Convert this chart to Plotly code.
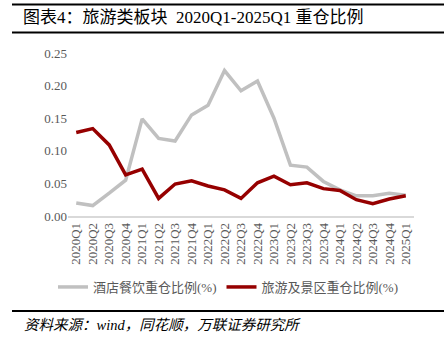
import plotly.graph_objects as go

quarters = ["2020Q1","2020Q2","2020Q3","2020Q4","2021Q1","2021Q2","2021Q3","2021Q4",
            "2022Q1","2022Q2","2022Q3","2022Q4","2023Q1","2023Q2","2023Q3","2023Q4",
            "2024Q1","2024Q2","2024Q3","2024Q4","2025Q1"]
hotel = [0.020,0.016,0.035,0.055,0.149,0.119,0.115,0.155,0.170,0.223,0.192,0.207,
         0.150,0.078,0.075,0.053,0.040,0.031,0.031,0.035,0.032]
travel = [0.128,0.134,0.109,0.063,0.072,0.027,0.049,0.054,0.046,0.040,0.027,0.051,
          0.061,0.048,0.051,0.042,0.039,0.025,0.019,0.026,0.031]
series_names = ["酒店餐饮重仓比例(%)", "旅游及景区重仓比例(%)"]
y_ticks = [0.00, 0.05, 0.10, 0.15, 0.20, 0.25]

FONT = "Liberation Serif, Noto Sans CJK SC, serif"
W, H = 444, 341
L, R, T, B = 68, 30, 53, 125
plot_h = H - T - B
plot_w = W - L - R

def px_y(py):
    return (H - B - py) / plot_h

def px_x(px):
    return (px - L) / plot_w

fig = go.Figure()
fig.add_trace(go.Scatter(x=quarters, y=hotel, mode="lines", name=series_names[0],
                         line=dict(color="#c0c0c0", width=3.5)))
fig.add_trace(go.Scatter(x=quarters, y=travel, mode="lines", name=series_names[1],
                         line=dict(color="#960000", width=3.5)))

fig.update_layout(
    width=W, height=H,
    margin=dict(l=L, r=R, t=T, b=B, autoexpand=False),
    paper_bgcolor="white", plot_bgcolor="white",
    font=dict(family=FONT, color="#595959", size=12),
    showlegend=True,
    legend=dict(orientation="h", x=228 / W, xanchor="center", xref="container",
                y=1 - 287 / H, yref="container", yanchor="middle",
                font=dict(size=13, color="#595959", family=FONT),
                itemwidth=30, bgcolor="rgba(0,0,0,0)"),
    xaxis=dict(type="category", tickangle=-90, showgrid=False, showline=True,
               linecolor="#d9d9d9", linewidth=1.5, ticks="", range=[-0.5, 20.5],
               tickmode="array", tickvals=quarters, ticktext=quarters,
               tickfont=dict(size=13, color="#595959", family=FONT)),
    yaxis=dict(range=[0, 0.25], tickvals=y_ticks, tickformat=".2f", showgrid=False,
               zeroline=False, showline=False, ticks="",
               tickfont=dict(size=13, color="#595959", family=FONT)),
)

shapes = []
for py in (4.5, 32.5, 311):
    shapes.append(dict(type="line", xref="paper", yref="paper", x0=px_x(12), x1=px_x(444),
                       y0=px_y(py), y1=px_y(py), line=dict(color="black", width=2)))
fig.update_layout(shapes=shapes)

fig.add_annotation(text="图表4：旅游类板块\u00a0\u00a02020Q1-2025Q1 重仓比例", xref="paper", yref="paper",
                   x=px_x(21), y=px_y(18), xanchor="left", yanchor="middle",
                   showarrow=False, font=dict(size=17, color="black", family=FONT))
fig.add_annotation(text="<i>资料来源：wind，同花顺，万联证券研究所</i>", xref="paper", yref="paper",
                   x=px_x(22), y=px_y(325), xanchor="left", yanchor="middle",
                   showarrow=False, font=dict(size=14.5, color="black", family=FONT))

fig.write_html("out.html")
